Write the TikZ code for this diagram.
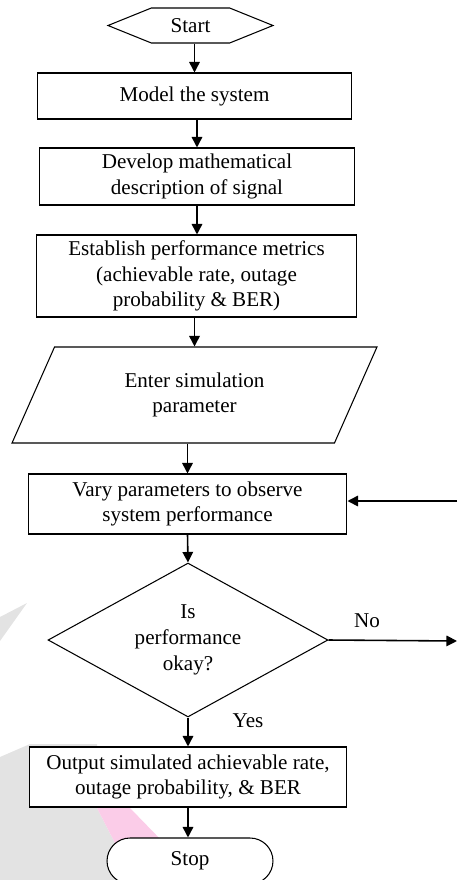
\documentclass[tikz,border=0pt]{standalone}
\usepackage{fontspec}
\setmainfont{Liberation Serif}
\usetikzlibrary{arrows.meta,shapes.geometric,shapes.symbols,shapes.misc,backgrounds}

\begin{document}
\begin{tikzpicture}[x=0.02cm, y=-0.02cm,
    every node/.style={font=\fontsize{12pt}{14.6pt}\selectfont, align=center},
    box/.style={draw, fill=white, line width=0.6pt, inner sep=0pt},
    arr/.style={-{Triangle[length=6pt,width=6pt]}, line width=0.9pt}]
  \useasboundingbox (0,0) rectangle (457,880);

  \node[box, shape=signal, signal to=west and east, signal pointer angle=44, minimum width=3.3cm, minimum height=0.7cm] (start) at (190.5,25.5) {Start};
  \node[box, minimum width=6.3cm, minimum height=0.92cm] (model) at (194.5,96) {Model the system};
  \node[box, minimum width=6.32cm, minimum height=1.14cm] (develop) at (197,176.5) {Develop mathematical\\description of signal};
  \node[box, minimum width=6.42cm, minimum height=1.64cm] (metrics) at (196.5,276) {Establish performance metrics\\(achievable rate, outage\\probability \& BER)};
  \node[box, trapezium, trapezium left angle=46.5, trapezium right angle=133.5, trapezium stretches body, minimum width=7.3cm, minimum height=1.92cm] (enter) at (194.5,395) {Enter simulation\\parameter};
  \node[box, minimum width=6.38cm, minimum height=1.2cm] (vary) at (187.5,504) {Vary parameters to observe\\system performance};
  \node[box, diamond, aspect=2, minimum width=5.6cm, minimum height=3.08cm] (okay) at (188,640) {Is\\performance\\okay?};
  \node[box, minimum width=6.36cm, minimum height=1.2cm] (output) at (188,777) {Output simulated achievable rate,\\outage probability, \& BER};
  \node[box, rounded rectangle, minimum width=3.32cm, minimum height=0.92cm] (stop) at (190,861) {Stop};

  % loose ends at the right border
  \coordinate (back) at (457,501);
  \coordinate (no) at (457,641);

  \draw[arr] (start.south -| model.north) -- (model.north);
  \draw[arr] (model.south -| develop.north) -- (develop.north);
  \draw[arr] (develop.south) -- (develop.south |- metrics.north);
  \draw[arr] (metrics.south -| enter.north) -- (enter.north);
  \draw[arr] (enter.south -| vary.north) -- (vary.north);
  \draw[arr] (vary.south) -- (okay.north);
  \draw[arr] (okay.south) -- node[pos=0.12, right=0.76cm] {Yes} (okay.south |- output.north);
  \draw[arr] (output.south) -- (output.south |- stop.north);
  \draw[arr] (okay.east) -- node[pos=0.3, above=0.12cm] {No} (no);
  \draw[arr] (back) -- (back -| vary.east);

  \begin{scope}[on background layer]
    \fill[gray!22] (0,617) -- (27,603) -- (0,641) -- cycle;
    \fill[gray!22] (0,757) -- (30,744) -- (97,744) -- (97,808) -- (134,880) -- (0,880) -- cycle;
    \fill[magenta!20] (97,808) -- (130,808) -- (200,880) -- (134,880) -- cycle;
  \end{scope}
\end{tikzpicture}
\end{document}
